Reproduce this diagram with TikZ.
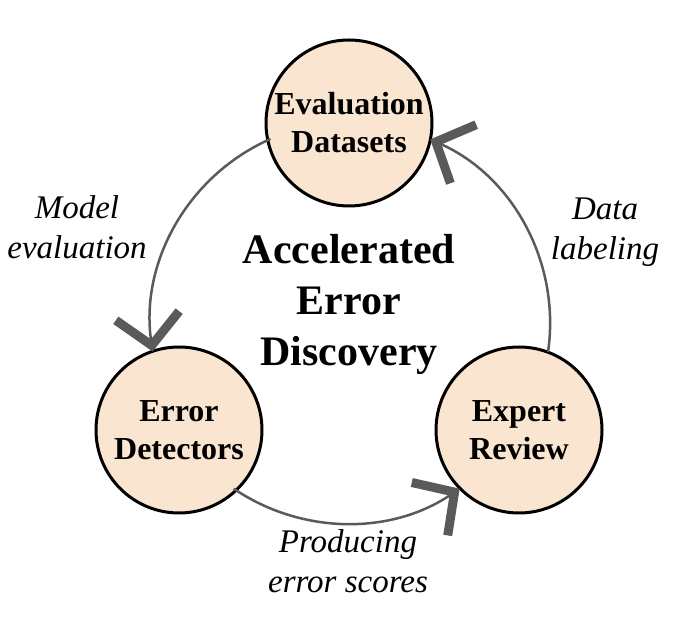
\documentclass[tikz,border=0pt]{standalone}
\usepackage{fontspec}
\setmainfont{Liberation Serif}
\usetikzlibrary{arrows.meta}
\definecolor{peach}{HTML}{FAE5D1}
\definecolor{ringgray}{HTML}{5A5A5A}
\begin{document}
\begin{tikzpicture}[x=1pt,y=1pt,
  stage/.style={circle, draw=black, line width=3pt, fill=peach, minimum size=166pt, inner sep=0pt, align=center, font=\bfseries\fontsize{32}{38}\selectfont},
  flow/.style={draw=ringgray, line width=2.5pt, -{Straight Barb[sharp,length=30pt,width=64pt,line width=9pt]}},
  lbl/.style={align=center, font=\itshape\fontsize{33}{40}\selectfont},
  title/.style={align=center, font=\bfseries\fontsize{42}{51}\selectfont},
]
\useasboundingbox (0,0) rectangle (680,618);
\node[circle, minimum size=402pt, inner sep=0pt, outer sep=0pt] (ring) at (349,294) {};
\node[stage] (eval) at (349,495) {Evaluation\\Datasets};
\node[stage] (det) at (179,188) {Error\\Detectors};
\node[stage] (rev) at (519,188) {Expert\\Review};
\node[title] (center) at (349,314) {Accelerated\\Error\\Discovery};
\draw[flow] (ring.113.8) arc[start angle=113.8, end angle=188.2, radius=201pt];
\draw[flow] (ring.235.8) arc[start angle=235.8, end angle=304.2, radius=201pt];
\draw[flow] (ring.-8.2) arc[start angle=-8.2, end angle=66.2, radius=201pt];
\node[lbl] (l1) at (77,391) {Model\\evaluation};
\node[lbl] (l2) at (605,386) {Data\\labeling};
\node[lbl] (l3) at (348,57) {Producing\\error scores};
\end{tikzpicture}
\end{document}
